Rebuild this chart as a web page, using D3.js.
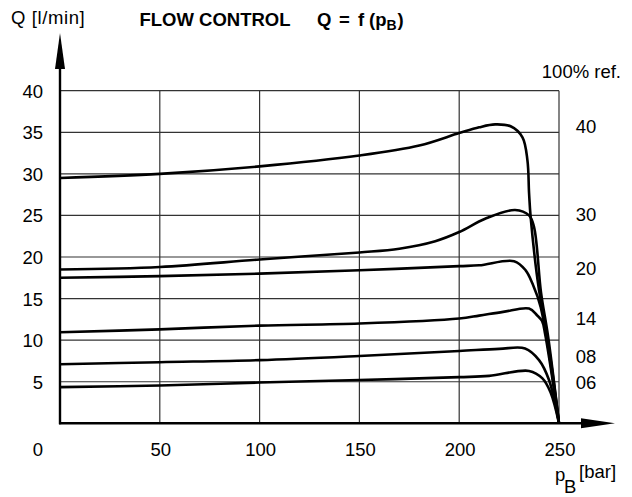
<!doctype html>
<html lang="en">
<head>
  <meta charset="utf-8">
  <title>Flow control Q = f(pB)</title>
</head>
<style>
html, body, svg {
    margin: 0;
    padding: 0;
    border: 0;
}
body { background: #fff; }
text { font-family: "Liberation Sans", Arial, sans-serif; fill: #000; }
</style>
<body>
  <svg></svg>
</body>
<script src="https://d3js.org/d3.v7.min.js"></script>
<script type="text/javascript">
    // pressure pB [bar] and flow Q [l/min]
    var xTicks = [0, 50, 100, 150, 200, 250];
    var yTicks = [5, 10, 15, 20, 25, 30, 35, 40];

    var curveNames = ["40", "30", "20", "14", "08", "06"];

    var p40 = [0, 50, 100, 150, 180, 200, 210, 218, 226, 231.7, 234.2, 235, 235.8, 240, 242.5, 246.5, 250];
    var q40 = [29.5, 30.0, 30.9, 32.2, 33.4, 34.9, 35.6, 35.95, 35.7, 34.4, 31.6, 27.7, 24.8, 16.0, 12.8, 6.5, 0];

    var p30 = [0, 50, 100, 150, 170, 188, 200, 213, 228, 235, 237.5, 241, 244.5, 250];
    var q30 = [18.5, 18.8, 19.7, 20.55, 21.0, 21.9, 23.0, 24.6, 25.65, 25.0, 23.6, 15.7, 10.5, 0];

    var p20 = [0, 50, 100, 150, 200, 210, 227.5, 233.3, 236.7, 240.8, 250];
    var q20 = [17.5, 17.7, 18.0, 18.4, 18.9, 19.0, 19.5, 18.4, 16.8, 14.0, 0];

    var p14 = [0, 50, 100, 150, 200, 210, 222, 235, 239, 241.5, 243, 250];
    var q14 = [10.95, 11.3, 11.75, 12.0, 12.6, 12.95, 13.4, 13.8, 13.0, 12.3, 10.8, 0];

    var p08 = [0, 50, 100, 150, 200, 220, 233, 240, 245, 250];
    var q08 = [7.1, 7.35, 7.6, 8.1, 8.7, 8.95, 9.0, 7.6, 5.2, 0];

    var p06 = [0, 50, 100, 150, 200, 215, 235, 241.7, 245.8, 250];
    var q06 = [4.35, 4.55, 4.9, 5.2, 5.55, 5.7, 6.3, 5.4, 3.7, 0];

    var pSeries = [p40, p30, p20, p14, p08, p06];
    var qSeries = [q40, q30, q20, q14, q08, q06];

    var w = 632, h = 497;
    var fs = 18.5;

    var x = d3.scaleLinear().domain([0, 250]).range([60, 559]);
    var y = d3.scaleLinear().domain([0, 40]).range([423.3, 90.7]);

    var svg = d3.select("svg")
      .attr("width", w)
      .attr("height", h);

    // grid
    svg.append("g")
      .selectAll("line")
      .data(xTicks.slice(1))
      .enter()
      .append("line")
      .attr("x1", function(d){ return x(d); })
      .attr("x2", function(d){ return x(d); })
      .attr("y1", y(0))
      .attr("y2", y(40))
      .attr("stroke", "#333")
      .attr("stroke-width", 1.2);

    svg.append("g")
      .selectAll("line")
      .data(yTicks)
      .enter()
      .append("line")
      .attr("x1", x(0))
      .attr("x2", x(250))
      .attr("y1", function(d){ return y(d); })
      .attr("y2", function(d){ return y(d); })
      .attr("stroke", "#333")
      .attr("stroke-width", 1.2);

    // axes with arrows
    svg.append("line")
      .attr("x1", x(0)).attr("x2", x(0))
      .attr("y1", y(0) + 1).attr("y2", 60)
      .attr("stroke", "#000").attr("stroke-width", 2.4);
    svg.append("path")
      .attr("d", "M" + x(0) + ",33 L" + (x(0) - 5) + ",69 L" + (x(0) + 5) + ",69 Z")
      .attr("fill", "#000");

    svg.append("line")
      .attr("x1", x(0) - 1).attr("x2", 590)
      .attr("y1", y(0)).attr("y2", y(0))
      .attr("stroke", "#000").attr("stroke-width", 2.4);
    svg.append("path")
      .attr("d", "M615," + y(0) + " L581," + (y(0) - 5) + " L581," + (y(0) + 5) + " Z")
      .attr("fill", "#000");

    // tick labels
    svg.append("g")
      .selectAll("text")
      .data(xTicks)
      .enter()
      .append("text")
      .attr("x", function(d){ return d === 0 ? 43 : x(d) + 1; })
      .attr("y", 455.7)
      .attr("text-anchor", function(d){ return d === 0 ? "end" : "middle"; })
      .attr("font-size", fs)
      .text(function(d){ return d; });

    svg.append("g")
      .selectAll("text")
      .data(yTicks)
      .enter()
      .append("text")
      .attr("x", 43)
      .attr("y", function(d){ return y(d) + 7; })
      .attr("text-anchor", "end")
      .attr("font-size", fs)
      .text(function(d){ return d; });

    // curves
    var line = d3.line()
      .x(function(d){ return x(d[0]); })
      .y(function(d){ return y(d[1]); })
      .curve(d3.curveCatmullRom.alpha(0.5));

    svg.append("g")
      .selectAll("path")
      .data(pSeries.map(function(ps, i){
        return ps.map(function(p, j){ return [p, qSeries[i][j]]; });
      }))
      .enter()
      .append("path")
      .attr("d", line)
      .attr("fill", "none")
      .attr("stroke", "#000")
      .attr("stroke-width", 2.6)
      .attr("stroke-linejoin", "round");

    // curve labels
    var labelY = [126, 214, 268, 318, 356, 382];
    svg.append("g")
      .selectAll("text")
      .data(curveNames)
      .enter()
      .append("text")
      .attr("x", 586)
      .attr("y", function(d, i){ return labelY[i] + 7; })
      .attr("text-anchor", "middle")
      .attr("font-size", fs)
      .text(function(d){ return d; });

    svg.append("text")
      .attr("x", 621).attr("y", 78)
      .attr("text-anchor", "end")
      .attr("font-size", fs)
      .text("100% ref.");

    svg.append("text")
      .attr("x", 11).attr("y", 24)
      .attr("font-size", fs)
      .attr("letter-spacing", 0.6)
      .text("Q [l/min]");

    var title = svg.append("text")
      .attr("x", 139.5).attr("y", 25.7)
      .attr("font-size", fs)
      .attr("font-weight", "bold");
    title.append("tspan").text("FLOW CONTROL");
    title.append("tspan").attr("x", 317).text("Q");
    title.append("tspan").attr("x", 339).text("=");
    title.append("tspan").attr("x", 358).text("f");
    title.append("tspan").attr("x", 369).text("(p");
    title.append("tspan").attr("font-size", 14).attr("dy", 4).text("B");
    title.append("tspan").attr("dy", -4).attr("dx", 1).text(")");

    var xl = svg.append("text")
      .attr("x", 555).attr("y", 481)
      .attr("font-size", fs);
    xl.append("tspan").text("p");
    xl.append("tspan").attr("x", 564).attr("dy", 12).text("B");
    xl.append("tspan").attr("x", 579).attr("dy", -15).text("[bar]");
</script>
</html>
